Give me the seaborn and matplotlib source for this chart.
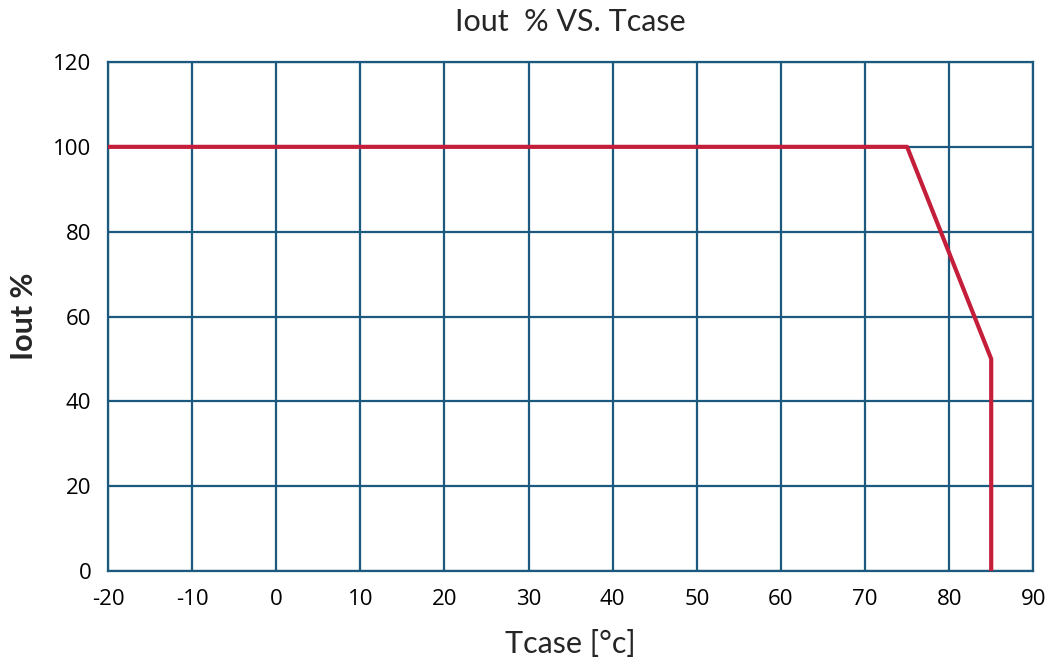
import matplotlib
matplotlib.use("Agg")
import matplotlib.pyplot as plt
import numpy as np
import pandas as pd
import seaborn as sb

# derating curve
tcase = [-20, 75, 85, 85]
iout = [100, 100, 50, 0]
x_ticks = [-20, -10, 0, 10, 20, 30, 40, 50, 60, 70, 80, 90]
y_ticks = [0, 20, 40, 60, 80, 100, 120]

grid_col = '#1b5a7e'
line_col = '#c41e3a'

sb.set_style("white")
plt.rcParams['font.family'] = ['Open Sans', 'DejaVu Sans']
plt.rcParams['axes.unicode_minus'] = False

fig = plt.figure(figsize=(10.49, 6.66), dpi=100)
ax = fig.add_axes([0.103, 0.1426, 0.882, 0.7643])

df = pd.DataFrame({'Tcase': tcase, 'Iout': iout})
sb.lineplot(data=df, x='Tcase', y='Iout', ax=ax, estimator=None, sort=False,
            color=line_col, linewidth=3, zorder=5)

ax.set_xlim(-20, 90)
ax.set_ylim(0, 120)
ax.set_xticks(x_ticks)
ax.set_yticks(y_ticks)
ax.grid(True, color=grid_col, linewidth=1.6)
for s in ax.spines.values():
    s.set_color(grid_col)
    s.set_linewidth(1.6)
ax.tick_params(axis='both', length=0, labelsize=16, colors='black')
ax.tick_params(axis='x', pad=13)
ax.tick_params(axis='y', pad=12)

ax.set_title('Iout  % VS. Tcase', fontsize=22, family=['Lato', 'DejaVu Sans'], pad=22)
ax.set_xlabel('Tcase [°c]', fontsize=22, family=['Lato', 'DejaVu Sans'], labelpad=14)
ax.set_ylabel('Iout %', fontsize=22, family=['Lato', 'DejaVu Sans'], fontweight='bold', labelpad=11)

plt.savefig('out.png', dpi=100)
